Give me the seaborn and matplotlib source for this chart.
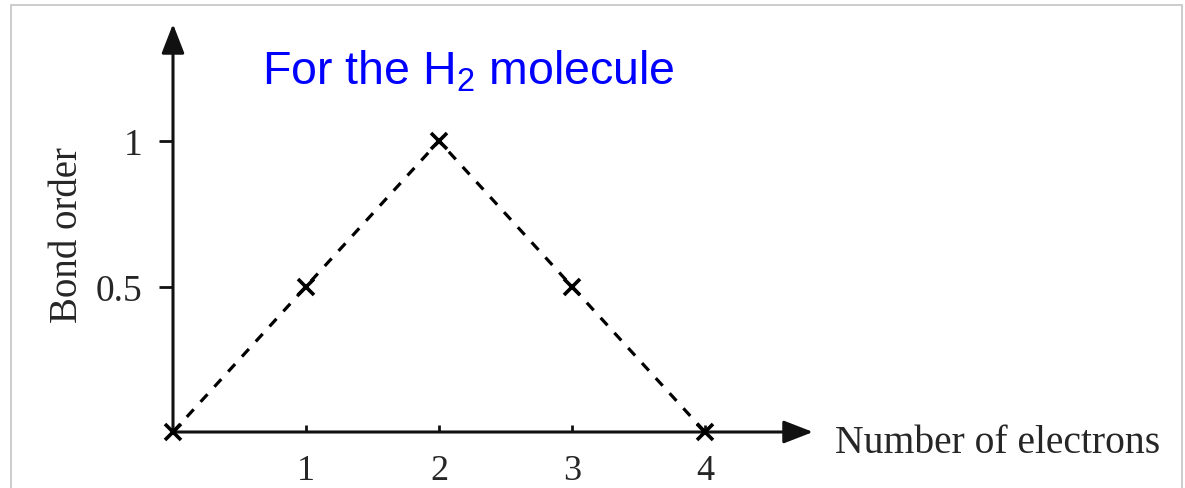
import matplotlib
matplotlib.use('Agg')
import matplotlib.pyplot as plt
from matplotlib.patches import Rectangle
import seaborn as sns

# data
electrons = [0, 1, 2, 3, 4]
bond_order = [0, 0.5, 1, 0.5, 0]
x_ticks = [1, 2, 3, 4]
x_tick_labels = ['1', '2', '3', '4']
y_ticks = [0.5, 1]
y_tick_labels = ['0.5', '1']

sns.set_style('white')
plt.rcParams['font.family'] = ['Liberation Serif', 'DejaVu Serif']

W, H = 1185, 489
fig = plt.figure(figsize=(W / 100, H / 100), dpi=100)

# axes: origin at (173, 433) px, arrow tips at x=813 and y=25
ax = fig.add_axes([173 / W, (H - 433) / H, (813 - 173) / W, (433 - 25) / H])
ax.set_xlim(0, 640 / 133)
ax.set_ylim(0, 408 / 291)

sns.lineplot(x=electrons, y=bond_order, ax=ax, color='black',
             linestyle=(0, (3.2, 3.2)), linewidth=2.3,
             marker='x', markersize=12, markeredgewidth=2.6,
             markeredgecolor='black', clip_on=False, zorder=5)

for s in ax.spines.values():
    s.set_visible(False)

# axis arrows
arrow = dict(arrowstyle='-|>,head_length=18,head_width=7', mutation_scale=1,
             lw=2.2, color='#111111', shrinkA=0, shrinkB=0)
ax.annotate('', xy=(0, 1), xytext=(0, 0), xycoords='axes fraction',
            textcoords='axes fraction', arrowprops=arrow)
ax.annotate('', xy=(1, 0), xytext=(0, 0), xycoords='axes fraction',
            textcoords='axes fraction', arrowprops=arrow)

ax.set_xticks(x_ticks)
ax.set_xticklabels(x_tick_labels)
ax.set_yticks(y_ticks)
ax.set_yticklabels(y_tick_labels)
ax.tick_params(axis='x', direction='in', length=5, width=2, pad=16,
               labelsize=26, color='#111111')
ax.tick_params(axis='y', direction='out', length=10, width=2, pad=12,
               labelsize=27, color='#111111')
ax.tick_params(bottom=True, left=True)

ax.set_xlabel('Number of electrons', fontsize=28.5)
ax.xaxis.label.set_ha('left')
ax.xaxis.label.set_va('baseline')
ax.xaxis.set_label_coords((835 - 173) / 640, (433 - 453) / 408)

ax.set_ylabel('Bond order', fontsize=28)
ax.yaxis.set_label_coords((86 - 173) / 640, (433 - 235) / 408)

fig.text(262 / W, 1 - 85 / H, r'For the H$_\mathregular{2}$ molecule',
         color='#0000ff', fontsize=33.5, family=['Liberation Sans', 'DejaVu Sans'],
         ha='left', va='baseline')

# thin grey frame around the picture
fig.patches.append(Rectangle((11 / W, -0.01), (1182 - 11) / W, 1.01 - 5.5 / H,
                             transform=fig.transFigure, fill=False,
                             ec='#c8c8c8', lw=1.3))

plt.savefig('out.png', dpi=100)
plt.close()
